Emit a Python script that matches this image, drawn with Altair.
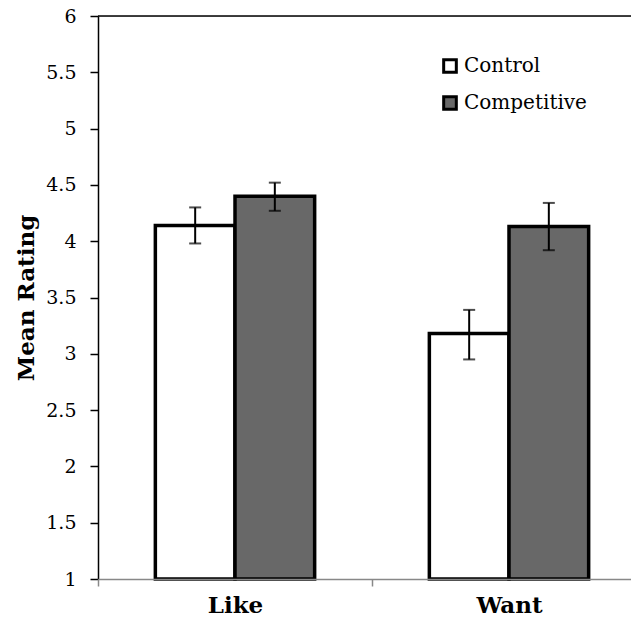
import altair as alt
import pandas as pd

categories = ["Like", "Like", "Want", "Want"]
conditions = ["Control", "Competitive", "Control", "Competitive"]
means = [4.14, 4.40, 3.18, 4.13]
err_lo = [3.98, 4.27, 2.95, 3.92]
err_hi = [4.30, 4.52, 3.39, 4.34]

df = pd.DataFrame({"cat": categories, "cond": conditions, "mean": means,
                   "lo": err_lo, "hi": err_hi})

SERIF = "DejaVu Serif"
cond_order = ["Control", "Competitive"]

x = alt.X("cat:N", title=None,
          scale=alt.Scale(domain=["Like", "Want"], range=[0, 548], paddingInner=0, paddingOuter=0),
          axis=alt.Axis(labelAngle=0, tickBand="extent", domainColor="#888888", tickColor="#888888",
                        tickSize=7, domainWidth=1.5, tickWidth=1.5,
                        labelFont=SERIF, labelFontSize=23, labelFontWeight="bold", labelColor="black",
                        labelPadding=8, zindex=1))
xo = alt.XOffset("cond:N", sort=cond_order,
                 scale=alt.Scale(domain=cond_order, paddingInner=0, paddingOuter=0.72))
y = alt.Y("mean:Q", title="Mean Rating",
          scale=alt.Scale(domain=[1, 6], nice=False, zero=False),
          axis=alt.Axis(values=[1, 1.5, 2, 2.5, 3, 3.5, 4, 4.5, 5, 5.5, 6], format="~g", grid=False,
                        domainColor="black", domainWidth=1.5, tickColor="black", tickSize=8, tickWidth=1.5,
                        labelFont=SERIF, labelFontSize=19, labelColor="black", labelPadding=14,
                        titleFont=SERIF, titleFontSize=23, titleFontWeight="bold", titleColor="black",
                        titlePadding=7))

bars = alt.Chart(df).mark_bar(stroke="black", strokeWidth=3.5).encode(
    x=x, xOffset=xo, y=y, y2=alt.datum(1),
    color=alt.Color("cond:N", sort=cond_order,
                    scale=alt.Scale(domain=cond_order, range=["#ffffff", "#686868"]),
                    legend=alt.Legend(title=None, orient="none", legendX=342, legendY=40,
                                      symbolType="square", symbolSize=160, symbolStrokeColor="black",
                                      symbolStrokeWidth=3, labelFont=SERIF, labelFontSize=20,
                                      labelColor="black", rowPadding=11, padding=0, labelOffset=4)),
)

rules = alt.Chart(df).mark_rule(color="black", strokeWidth=2).encode(
    x=x, xOffset=xo, y=alt.Y("lo:Q"), y2="hi:Q")
cap_lo = alt.Chart(df).mark_tick(color="black", thickness=2, size=12).encode(
    x=x, xOffset=xo, y=alt.Y("lo:Q"))
cap_hi = alt.Chart(df).mark_tick(color="black", thickness=2, size=12).encode(
    x=x, xOffset=xo, y=alt.Y("hi:Q"))

top_line = alt.Chart(pd.DataFrame({"v": [6]})).mark_rule(color="black", strokeWidth=1.5).encode(
    y=alt.Y("v:Q"))

chart = alt.layer(bars, rules, cap_lo, cap_hi, top_line).properties(
    width=533, height=563,
    autosize=alt.AutoSizeParams(type="none"),
    padding={"left": 90, "top": 8, "right": 0, "bottom": 40},
).configure_view(stroke=None).configure(background="white")

chart.save("out.html", embed_options={"renderer": "svg", "actions": False})
